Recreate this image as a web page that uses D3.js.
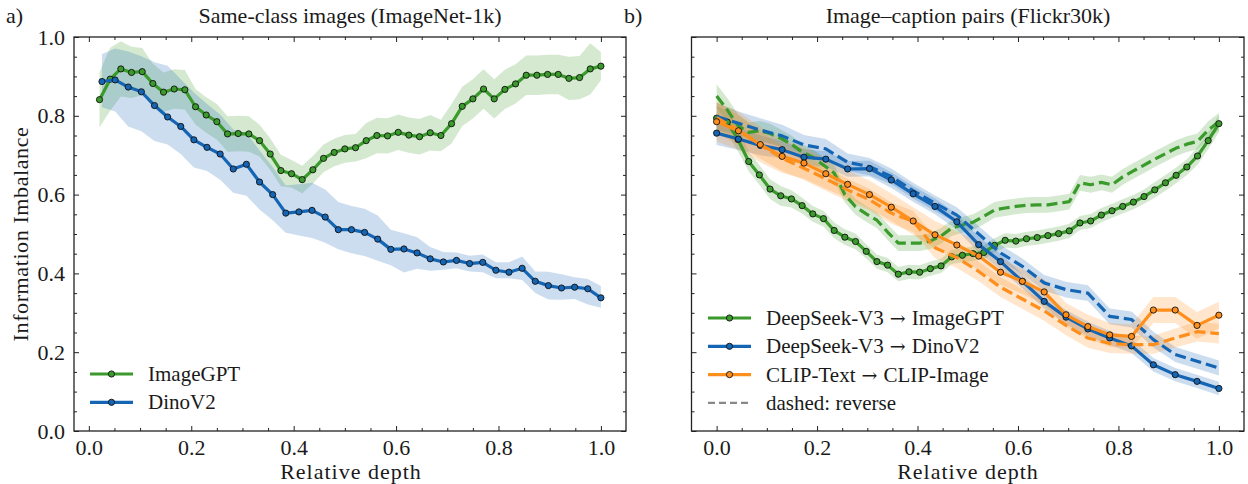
<!DOCTYPE html>
<html>
<head>
<meta charset="utf-8">
<script src="https://cdn.jsdelivr.net/npm/d3@7"></script>
<style>
body { margin: 0; background: #fff; }
svg text { font-family: "Liberation Serif", "DejaVu Serif", serif; fill: #1a1a1a; }
.tick text { font-size: 22px; }
.arrow { font-family: "DejaVu Serif", serif; }
</style>
</head>
<body>
<script>
var width = 1248,
    height = 484;

// ---- panel a) ImageNet-1k, values per layer ----
var gptLeft = [0.841,0.893,0.919,0.910,0.912,0.882,0.860,0.868,0.866,0.823,0.802,0.785,0.754,0.755,0.754,0.737,
  0.703,0.661,0.653,0.638,0.663,0.692,0.707,0.716,0.719,0.737,0.750,0.749,0.758,0.751,0.747,0.757,
  0.750,0.780,0.824,0.843,0.868,0.843,0.867,0.881,0.903,0.903,0.905,0.905,0.895,0.897,0.919,0.926];
var gptLeftSpread = [0.07,0.08,0.07,0.065,0.06,0.05,0.05,0.05,0.05,0.045,0.045,0.045,0.045,0.045,0.045,0.04,
  0.04,0.04,0.035,0.035,0.035,0.035,0.035,0.035,0.035,0.045,0.045,0.045,0.045,0.045,0.045,0.045,
  0.04,0.05,0.05,0.05,0.05,0.05,0.05,0.05,0.05,0.05,0.05,0.05,0.055,0.055,0.065,0.036];
var dinoLeft = [0.887,0.891,0.873,0.861,0.826,0.797,0.773,0.739,0.720,0.703,0.665,0.677,0.632,0.600,0.553,0.556,
  0.560,0.543,0.511,0.511,0.504,0.487,0.461,0.462,0.452,0.437,0.429,0.433,0.425,0.428,0.408,0.403,
  0.413,0.380,0.369,0.363,0.365,0.361,0.338];
var dinoLeftUp = [0.07,0.08,0.09,0.09,0.11,0.13,0.12,0.12,0.11,0.10,0.10,0.08,0.08,0.07,0.07,0.07,
  0.07,0.07,0.07,0.06,0.06,0.06,0.05,0.04,0.04,0.03,0.025,0.02,0.02,0.02,0.02,0.025,
  0.03,0.025,0.035,0.035,0.025,0.025,0.03];
var dinoLeftDown = [0.065,0.08,0.10,0.10,0.09,0.07,0.07,0.07,0.06,0.065,0.06,0.08,0.07,0.065,0.05,0.06,
  0.07,0.065,0.05,0.06,0.06,0.055,0.04,0.06,0.04,0.03,0.02,0.02,0.02,0.025,0.02,0.015,
  0.03,0.03,0.035,0.03,0.03,0.04,0.025];

// ---- panel b) Flickr30k ----
var dsGpt = [0.794,0.784,0.740,0.684,0.650,0.614,0.597,0.589,0.572,0.551,0.539,0.509,0.492,0.481,0.456,0.430,
  0.421,0.398,0.404,0.403,0.412,0.419,0.442,0.446,0.450,0.453,0.471,0.484,0.482,0.488,0.491,0.496,
  0.501,0.508,0.528,0.533,0.548,0.559,0.570,0.581,0.595,0.612,0.630,0.649,0.670,0.698,0.737,0.780];
var dsGptRev = [0.850,0.815,0.775,0.758,0.762,0.755,0.743,0.728,0.708,0.695,0.675,0.655,0.600,0.569,0.551,0.535,
  0.505,0.477,0.477,0.477,0.482,0.495,0.515,0.523,0.530,0.545,0.561,0.566,0.570,0.573,0.574,0.574,
  0.578,0.582,0.630,0.625,0.631,0.625,0.645,0.660,0.675,0.690,0.704,0.718,0.728,0.735,0.764,0.785];
var dsGptBand = [0.03,0.03,0.03,0.025,0.025,0.025,0.025,0.022,0.02,0.02,0.02,0.02,0.02,0.02,0.018,0.018,
  0.018,0.018,0.018,0.018,0.018,0.018,0.018,0.018,0.018,0.018,0.018,0.018,0.018,0.018,0.018,0.018,
  0.018,0.018,0.018,0.018,0.018,0.018,0.018,0.018,0.018,0.02,0.02,0.02,0.02,0.022,0.022,0.022];
var dsGptRevBand = [0.03,0.03,0.028,0.025,0.025,0.025,0.022,0.022,0.02,0.02,0.02,0.02,0.02,0.02,0.02,0.02,
  0.02,0.02,0.02,0.02,0.02,0.02,0.02,0.02,0.02,0.02,0.02,0.02,0.02,0.02,0.02,0.02,
  0.02,0.02,0.02,0.02,0.02,0.02,0.02,0.02,0.02,0.02,0.02,0.02,0.02,0.02,0.022,0.022];

var dsDino = [0.756,0.741,0.725,0.714,0.695,0.690,0.665,0.666,0.637,0.602,0.570,0.531,0.473,0.430,0.380,0.329,
  0.289,0.259,0.236,0.216,0.168,0.143,0.126,0.108];
var dsDinoRev = [0.798,0.781,0.764,0.749,0.726,0.716,0.682,0.671,0.646,0.610,0.578,0.548,0.500,0.452,0.418,0.376,
  0.359,0.350,0.291,0.283,0.232,0.194,0.177,0.160];
var dsDinoBand = [0.03,0.028,0.025,0.022,0.02,0.02,0.02,0.02,0.02,0.02,0.02,0.02,0.02,0.02,0.018,0.018,
  0.018,0.018,0.018,0.018,0.017,0.017,0.017,0.017];
var dsDinoRevBand = [0.035,0.03,0.03,0.028,0.025,0.025,0.022,0.022,0.02,0.02,0.02,0.02,0.02,0.02,0.02,0.02,
  0.02,0.02,0.02,0.02,0.02,0.019,0.019,0.019];

var clip = [0.785,0.762,0.727,0.697,0.680,0.653,0.626,0.600,0.568,0.533,0.498,0.472,0.444,0.403,0.380,0.353,
  0.295,0.265,0.244,0.240,0.307,0.307,0.268,0.294];
var clipRev = [0.795,0.764,0.726,0.692,0.667,0.640,0.612,0.587,0.553,0.532,0.465,0.440,0.405,0.365,0.335,0.305,
  0.268,0.236,0.222,0.219,0.219,0.236,0.252,0.247];
var clipBand = [0.05,0.048,0.045,0.042,0.04,0.038,0.035,0.035,0.035,0.035,0.035,0.035,0.035,0.032,0.032,0.032,
  0.03,0.03,0.03,0.03,0.033,0.033,0.034,0.034];
var clipRevBand = [0.04,0.038,0.035,0.032,0.03,0.03,0.028,0.028,0.027,0.027,0.026,0.026,0.025,0.025,0.025,0.025,
  0.025,0.025,0.024,0.023,0.023,0.024,0.025,0.025];

var majorTicks = [0, 0.2, 0.4, 0.6, 0.8, 1.0];
var minorTicks = [0.05, 0.1, 0.15, 0.25, 0.3, 0.35, 0.45, 0.5, 0.55, 0.65, 0.7, 0.75, 0.85, 0.9, 0.95];

var green = "#3a9a2b", blue = "#1565b5", orange = "#ff8f1c";

// depth of layer i out of n (first layer shown or not)
function depthsFrom1(n) { return d3.range(1, n + 1).map(function(i){ return i / n; }); }
function depthsFrom0(n) { return d3.range(0, n).map(function(i){ return i / (n - 1); }); }

var svg = d3.select("body").append("svg")
  .attr("width", width)
  .attr("height", height);

var yScale = d3.scaleLinear().domain([0, 1]).range([431, 37]);
var xLeft = d3.scaleLinear().domain([-0.029, 1.049]).range([74, 626]);
var xRight = d3.scaleLinear().domain([-0.05, 1.05]).range([691.5, 1244]);

function axes(x, yLabels) {
  var g = svg.append("g");
  var left = x.range()[0], right = x.range()[1];
  var fmt = d3.format(".1f");

  var sides = [
    {axis: d3.axisBottom, tr: "translate(0,431)", scale: x, lab: true, pad: 8},
    {axis: d3.axisTop, tr: "translate(0,37)", scale: x, lab: false, pad: 8},
    {axis: d3.axisLeft, tr: "translate(" + left + ",0)", scale: yScale, lab: yLabels, pad: 9},
    {axis: d3.axisRight, tr: "translate(" + right + ",0)", scale: yScale, lab: false, pad: 8}
  ];
  sides.forEach(function(s) {
    g.append("g").attr("transform", s.tr)
      .call(s.axis(s.scale).tickValues(majorTicks).tickSizeInner(-5).tickSizeOuter(0).tickPadding(s.pad)
        .tickFormat(s.lab ? fmt : ""))
      .call(function(a){ a.select(".domain").remove(); a.attr("font-family", null).attr("font-size", null); });
    g.append("g").attr("transform", s.tr)
      .call(s.axis(s.scale).tickValues(minorTicks).tickSizeInner(-3).tickSizeOuter(0).tickFormat(""))
      .call(function(a){ a.select(".domain").remove(); });
  });
  g.selectAll(".tick line").attr("stroke", "#222").attr("stroke-width", 1);

  g.append("rect")
    .attr("x", left).attr("y", 37)
    .attr("width", right - left).attr("height", 394)
    .attr("fill", "none").attr("stroke", "#222").attr("stroke-width", 1.3);
  return g;
}

function series(layer, x, xs, ys, lo, hi, color, dashed, markers) {
  var pts = ys.map(function(v, i){ return {x: xs[i], y: v, lo: lo[i], hi: hi[i]}; });
  layer.append("path").datum(pts)
    .attr("fill", color).attr("fill-opacity", 0.22).attr("stroke", "none")
    .attr("d", d3.area().x(function(d){ return x(d.x); })
      .y0(function(d){ return yScale(d.lo); }).y1(function(d){ return yScale(d.hi); }));
  return function() {
    layer.append("path").datum(pts)
      .attr("fill", "none").attr("stroke", color).attr("stroke-width", 3.2)
      .attr("stroke-linejoin", "round")
      .attr("stroke-dasharray", dashed ? "11,5" : null)
      .attr("d", d3.line().x(function(d){ return x(d.x); }).y(function(d){ return yScale(d.y); }));
    if (markers) {
      layer.selectAll(null).data(pts).enter().append("circle")
        .attr("cx", function(d){ return x(d.x); })
        .attr("cy", function(d){ return yScale(d.y); })
        .attr("r", 3.1)
        .attr("fill", color).attr("stroke", "#111").attr("stroke-width", 0.9);
    }
  };
}

function sym(vals, spread, sign) {
  return vals.map(function(v, i){ return v + sign * spread[i]; });
}

// ---------- panel a ----------
var pa = svg.append("g");
var gxL = depthsFrom1(gptLeft.length), dxL = depthsFrom1(dinoLeft.length);
var drawGpt = series(pa, xLeft, gxL, gptLeft, sym(gptLeft, gptLeftSpread, -1), sym(gptLeft, gptLeftSpread, 1), green, false, true);
var drawDino = series(pa, xLeft, dxL, dinoLeft, sym(dinoLeft, dinoLeftDown, -1), sym(dinoLeft, dinoLeftUp, 1), blue, false, true);
drawGpt();
drawDino();
axes(xLeft, true);

// ---------- panel b ----------
var pb = svg.append("g");
var gx = depthsFrom0(dsGpt.length), dx = depthsFrom0(dsDino.length);
var draws = [
  series(pb, xRight, gx, dsGptRev, sym(dsGptRev, dsGptRevBand, -1), sym(dsGptRev, dsGptRevBand, 1), green, true, false),
  series(pb, xRight, gx, dsGpt, sym(dsGpt, dsGptBand, -1), sym(dsGpt, dsGptBand, 1), green, false, true),
  series(pb, xRight, dx, dsDinoRev, sym(dsDinoRev, dsDinoRevBand, -1), sym(dsDinoRev, dsDinoRevBand, 1), blue, true, false),
  series(pb, xRight, dx, dsDino, sym(dsDino, dsDinoBand, -1), sym(dsDino, dsDinoBand, 1), blue, false, true),
  series(pb, xRight, dx, clipRev, sym(clipRev, clipRevBand, -1), sym(clipRev, clipRevBand, 1), orange, true, false),
  series(pb, xRight, dx, clip, sym(clip, clipBand, -1), sym(clip, clipBand, 1), orange, false, true)
];
draws.forEach(function(f){ f(); });
axes(xRight, false);

// ---------- titles & labels ----------
function text(x, y, s, anchor, size, spacing) {
  return svg.append("text").attr("x", x).attr("y", y)
    .attr("text-anchor", anchor || "middle")
    .attr("letter-spacing", spacing || null)
    .attr("font-size", (size || 22) + "px").text(s);
}
text(6, 23, "a)", "start");
text(624, 23, "b)", "start");
text(350, 23, "Same-class images (ImageNet-1k)");
text(968, 23, "Image\u2013caption pairs (Flickr30k)");
text(351, 479, "Relative depth", "middle", 22, 1);
text(968, 479, "Relative depth", "middle", 22, 1);
svg.append("text")
  .attr("transform", "translate(28,234) rotate(-90)")
  .attr("text-anchor", "middle").attr("font-size", "22px").attr("letter-spacing", 0.6)
  .text("Information Imbalance");

// ---------- legends ----------
function legend(items, x0, y0, step) {
  var lg = svg.append("g");
  items.forEach(function(it, i) {
    var y = y0 + i * step;
    lg.append("line").attr("x1", x0).attr("x2", x0 + 43).attr("y1", y).attr("y2", y)
      .attr("stroke", it.color).attr("stroke-width", it.marker ? 3.2 : 2.2)
      .attr("stroke-dasharray", it.marker ? null : "7,4");
    if (it.marker) {
      lg.append("circle").attr("cx", x0 + 21.5).attr("cy", y).attr("r", 3.1)
        .attr("fill", it.color).attr("stroke", "#111").attr("stroke-width", 0.9);
    }
    var t = lg.append("text").attr("x", x0 + 58).attr("y", y + 7)
      .attr("font-size", "21px");
    it.label.split("\u2192").forEach(function(part, j) {
      if (j > 0) t.append("tspan").attr("class", "arrow").attr("font-size", "19px").text(" \u2192 ");
      t.append("tspan").text(part.trim());
    });
  });
}
legend([
  {label: "ImageGPT", color: green, marker: true},
  {label: "DinoV2", color: blue, marker: true}
], 90, 374, 28.3);
legend([
  {label: "DeepSeek-V3 \u2192 ImageGPT", color: green, marker: true},
  {label: "DeepSeek-V3 \u2192 DinoV2", color: blue, marker: true},
  {label: "CLIP-Text \u2192 CLIP-Image", color: orange, marker: true},
  {label: "dashed: reverse", color: "#888", marker: false}
], 708, 318, 28.3);
</script>
</body>
</html>
